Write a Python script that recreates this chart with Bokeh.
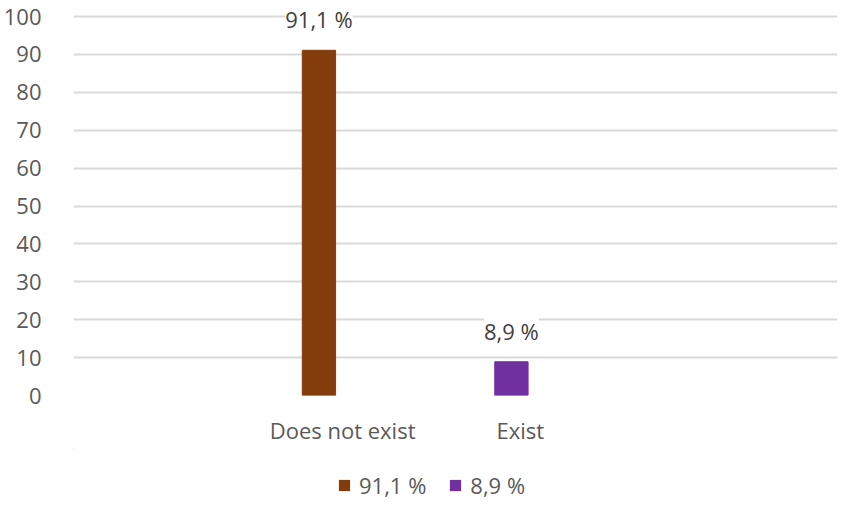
from bokeh.plotting import figure
from bokeh.layouts import column
from bokeh.models import ColumnDataSource, Range1d, FixedTicker, Legend, LegendItem
from bokeh.core.properties import value
from bokeh.embed import file_html
from bokeh.resources import INLINE

categories = ["Does not exist", "Exist"]
values = [91.1, 8.9]
series_names = ["91,1 %", "8,9 %"]
colors = ["#843C0C", "#7030A0"]
y_ticks = list(range(0, 101, 10))

FONT = "Open Sans"
FS = "22px"
x_pos = [i + 0.5 for i in range(len(categories))]
label_pos = [x_pos[0] + 0.123, x_pos[1] + 0.046]

p = figure(width=838, height=448, x_range=Range1d(-0.775, 3.194), y_range=Range1d(0, 101.6),
           output_backend="svg", toolbar_location=None,
           min_border_left=59, min_border_right=1, min_border_top=10, min_border_bottom=53)
p.outline_line_color = None

lg = figure(width=838, height=52, x_range=Range1d(100, 101), y_range=Range1d(-200, -100),
            output_backend="svg", toolbar_location=None, x_axis_type=None, y_axis_type=None,
            min_border=0)
lg.outline_line_color = None
lg.grid.visible = False

items = []
for i in range(len(categories)):
    src = ColumnDataSource(dict(x=[x_pos[i]], top=[values[i]], label=[series_names[i]]))
    p.vbar(x="x", top="top", width=0.173, color=colors[i], source=src)
    p.text(x="x", y="top", text="label", text_align="center", text_baseline="middle",
           y_offset=-31, text_font=value(FONT), text_font_size=FS,
           text_color="#404040", background_fill_color="white", source=src)
    r = lg.vbar(x="x", top="top", width=0.173, fill_color=colors[i], line_color=None, source=src)
    items.append(LegendItem(label=series_names[i], renderers=[r]))

p.xgrid.visible = False
p.ygrid.ticker = FixedTicker(ticks=y_ticks)
p.ygrid.grid_line_color = "#d9d9d9"
p.ygrid.grid_line_width = 2

p.yaxis.ticker = FixedTicker(ticks=y_ticks)
p.yaxis.axis_line_color = None
p.yaxis.major_tick_line_color = None
p.yaxis.minor_tick_line_color = None
p.yaxis.major_label_standoff = 26
p.yaxis.major_label_text_font = FONT
p.yaxis.major_label_text_font_size = FS
p.yaxis.major_label_text_color = "#595959"

p.xaxis.ticker = FixedTicker(ticks=label_pos)
p.xaxis.major_label_overrides = {label_pos[i]: categories[i] for i in range(len(categories))}
p.xaxis.axis_line_color = None
p.xaxis.major_tick_line_color = None
p.xaxis.minor_tick_line_color = None
p.xaxis.major_label_standoff = 13
p.xaxis.major_label_text_font = FONT
p.xaxis.major_label_text_font_size = FS
p.xaxis.major_label_text_color = "#595959"

legend = Legend(items=items, orientation="horizontal", location=(264, 0),
                glyph_width=14, glyph_height=14, label_text_font=FONT,
                label_text_font_size=FS, label_text_color="#595959",
                border_line_color=None, background_fill_alpha=0,
                spacing=22, label_standoff=8, margin=0, padding=0)
lg.add_layout(legend, "center")

layout = column(p, lg, spacing=0)
open("out.html", "w").write(file_html(layout, INLINE))
